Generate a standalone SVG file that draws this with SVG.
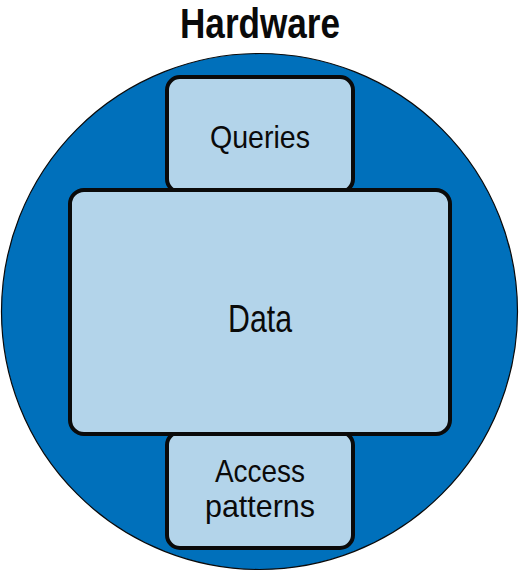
<svg xmlns="http://www.w3.org/2000/svg" width="520" height="573" viewBox="0 0 520 573">
<style>
.box{fill:#b3d4ea;stroke:#0a0a0a;stroke-width:4}
.lbl{font-family:"Liberation Sans",Arial,sans-serif;fill:#0a0a0a;text-anchor:middle}
</style>
<rect width="520" height="573" fill="#ffffff"/>
<g id="hardware">
<circle cx="259.5" cy="311.5" r="258" fill="#0070bb" stroke="#0a0a0a" stroke-width="1.2"/>
<text class="lbl" x="260" y="38" font-size="42" font-weight="bold" textLength="160" lengthAdjust="spacingAndGlyphs">Hardware</text>
</g>
<g id="queries">
<rect class="box" x="167" y="77" width="186" height="115" rx="13"/>
<text class="lbl" x="260" y="148" font-size="32" textLength="100" lengthAdjust="spacingAndGlyphs">Queries</text>
</g>
<g id="access">
<rect class="box" x="167" y="432" width="186" height="116" rx="13"/>
<text class="lbl" x="260" y="482" font-size="32" textLength="90" lengthAdjust="spacingAndGlyphs">Access</text>
<text class="lbl" x="260" y="517" font-size="32" textLength="110" lengthAdjust="spacingAndGlyphs">patterns</text>
</g>
<g id="data">
<rect class="box" x="70" y="190" width="380" height="244" rx="14"/>
<text class="lbl" x="260" y="332" font-size="39" textLength="64" lengthAdjust="spacingAndGlyphs">Data</text>
</g>
<g id="connectors"></g>
</svg>
